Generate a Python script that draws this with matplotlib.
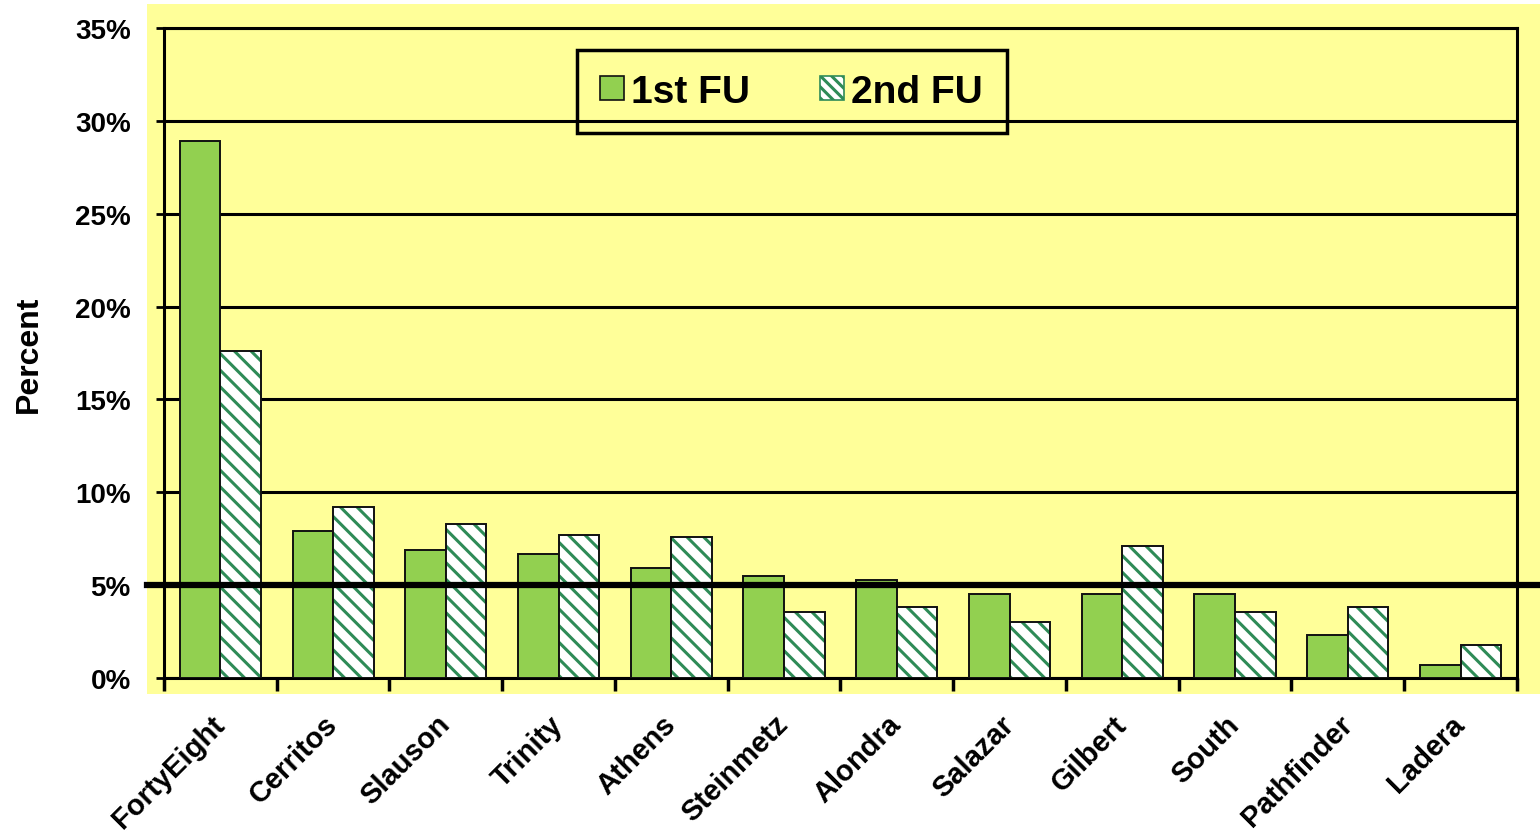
import matplotlib
matplotlib.use("Agg")
import matplotlib.pyplot as plt
import matplotlib.patches as mpatches
import numpy as np

# values (percent)
sites = ['FortyEight', 'Cerritos', 'Slauson', 'Trinity', 'Athens', 'Steinmetz',
         'Alondra', 'Salazar', 'Gilbert', 'South', 'Pathfinder', 'Ladera']
first_fu = [28.9, 7.9, 6.9, 6.7, 5.9, 5.5, 5.3, 4.5, 4.5, 4.5, 2.3, 0.7]
second_fu = [17.6, 9.2, 8.3, 7.7, 7.6, 3.55, 3.8, 3.0, 7.1, 3.55, 3.8, 1.8]
yticks = [0, 5, 10, 15, 20, 25, 30, 35]
threshold = 5

YELLOW = '#FFFF99'
GREEN = '#92D050'
HATCH = '#2E8B57'

plt.rcParams['font.family'] = ['Liberation Sans', 'DejaVu Sans']
plt.rcParams['font.weight'] = 'bold'
plt.rcParams['hatch.linewidth'] = 2.2

fig = plt.figure(figsize=(15.4, 8.37), dpi=100)
fig.patch.set_facecolor('white')
# yellow chart area behind the axes
bg = mpatches.Rectangle((0.0955, 0.1697), 0.9045, 0.8243,
                        transform=fig.transFigure, facecolor=YELLOW,
                        edgecolor='none', zorder=-10)
fig.add_artist(bg)

ax = fig.add_axes([0.1065, 0.1888, 0.8785, 0.7766])
ax.set_facecolor(YELLOW)

x = np.arange(len(sites))
w = 0.36
ax.bar(x - w / 2, first_fu, width=w, color=GREEN, edgecolor='#111111',
       linewidth=1.4, zorder=3)
ax.bar(x + w / 2, second_fu, width=w, color='white', edgecolor=HATCH,
       linewidth=0, hatch='\\\\', zorder=3)
ax.bar(x + w / 2, second_fu, width=w, color='none', edgecolor='#111111',
       linewidth=1.4, zorder=3)

ax.set_xlim(-0.5, len(sites) - 0.5)
ax.set_ylim(0, 35)
ax.set_yticks(yticks)
ax.set_yticklabels([f'{t}%' for t in yticks], fontsize=20, fontweight='bold')
ax.yaxis.grid(True, color='black', linewidth=2.2, zorder=1)
ax.set_axisbelow(True)
ax.tick_params(axis='y', direction='inout', length=12, width=2, pad=18)

ax.set_xticks(x)
ax.set_xticklabels(sites, fontsize=21, fontweight='bold', rotation=45,
                   ha='right', va='center', rotation_mode='anchor')
ax.tick_params(axis='x', length=0, pad=30)
ax.set_xticks(np.arange(len(sites) + 1) - 0.5, minor=True)
ax.tick_params(axis='x', which='minor', direction='out', length=9, width=2.5)

for s in ax.spines.values():
    s.set_linewidth(2.2)
    s.set_color('black')

ax.set_ylabel('Percent', fontsize=23, fontweight='bold', labelpad=22)

# thick 5% reference line
ax.plot([-0.0126, 1.017], [threshold, threshold], color='black', linewidth=4.5,
        transform=ax.get_yaxis_transform(), clip_on=False, zorder=5)

h1 = mpatches.Patch(facecolor=GREEN, edgecolor='#111111', linewidth=1.2, label='1st FU')
h2 = mpatches.Patch(facecolor='white', edgecolor=HATCH, hatch='\\\\\\', linewidth=1.2,
                    label='2nd FU')
leg = ax.legend(handles=[h1, h2], loc='center', bbox_to_anchor=(0.464, 0.902),
                ncol=2, fontsize=28, frameon=True, fancybox=False,
                handlelength=0.6, handleheight=0.6, handletextpad=0.2,
                columnspacing=1.8, borderpad=0.6, borderaxespad=0)
frame = leg.get_frame()
frame.set_alpha(None)
frame.set_facecolor('none')
frame.set_edgecolor('black')
frame.set_linewidth(2.5)
for t in leg.get_texts():
    t.set_fontweight('bold')

fig.savefig('out.png', dpi=100, facecolor='white')
